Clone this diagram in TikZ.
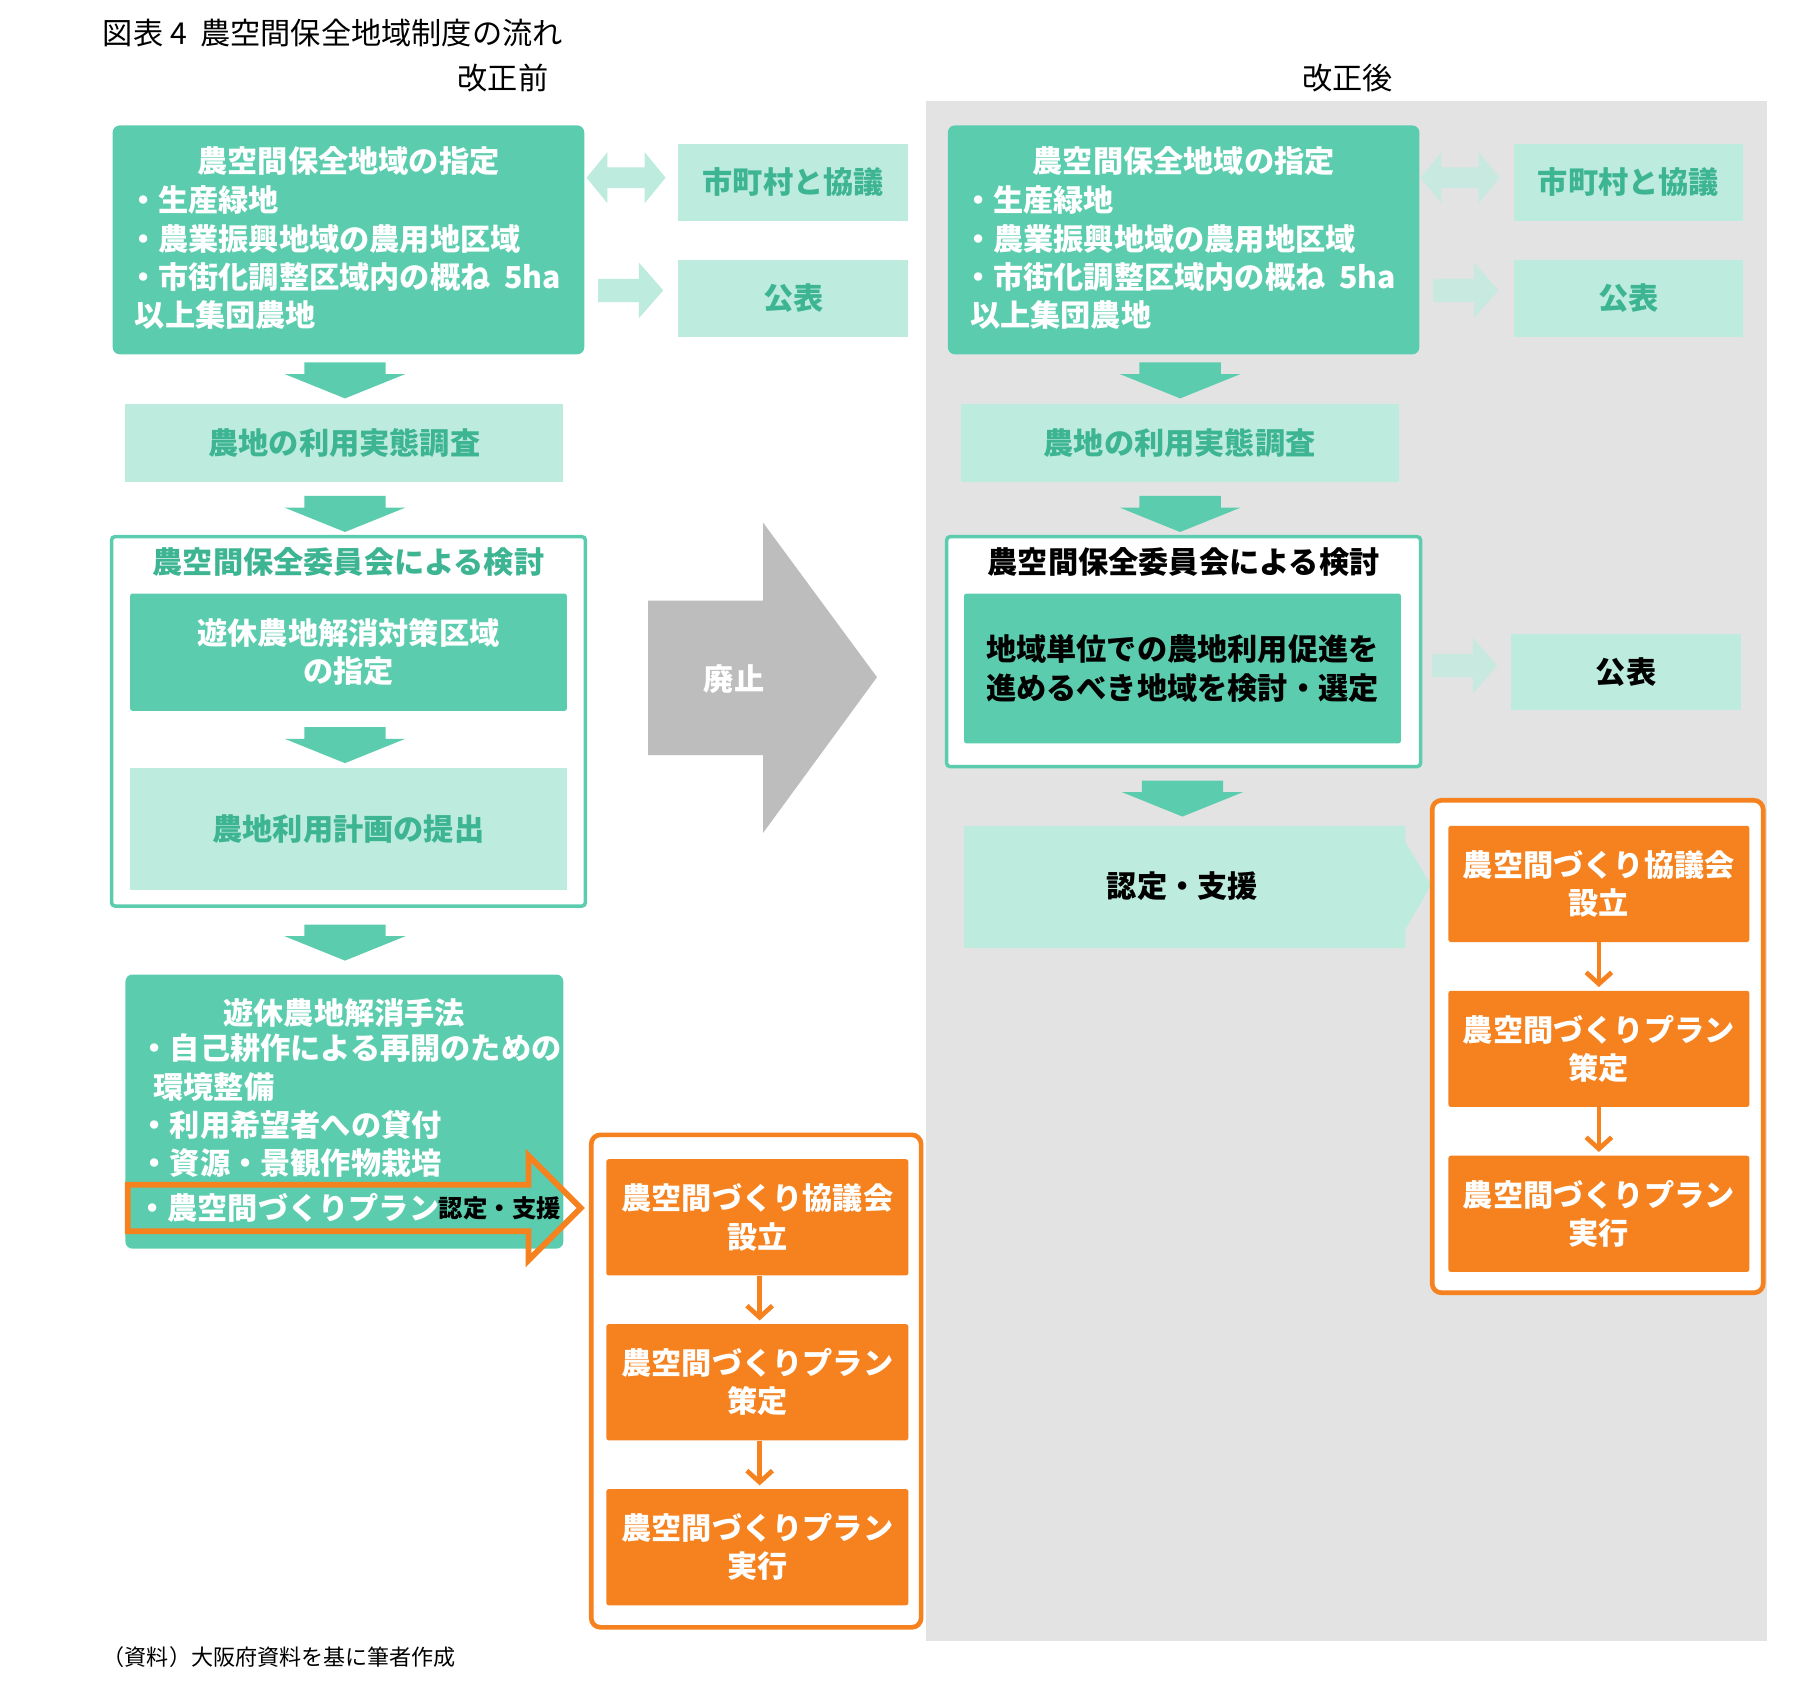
\documentclass[tikz,border=0pt]{standalone}
\usepackage{fontspec}
\setmainfont{Noto Sans CJK JP}
\usetikzlibrary{arrows.meta}
\definecolor{gr}{HTML}{5BCDAE}
\definecolor{lg}{HTML}{BDEBDD}
\definecolor{dg}{HTML}{3DB592}
\definecolor{og}{HTML}{F5821F}
\definecolor{bg}{HTML}{E3E3E3}
\definecolor{ga}{HTML}{BDBDBD}
\tikzset{x=1pt,y=-1pt,
 tx/.style={font=\fontsize{26}{33}\selectfont\bfseries,align=center,inner sep=0},
 gbox/.style={fill=gr,rounded corners=6pt,draw=none},
 lbox/.style={fill=lg,draw=none},
 obox/.style={fill=og,draw=none,rounded corners=2pt},
 oframe/.style={draw=og,line width=4pt,fill=white,rounded corners=8pt},
 gframe/.style={draw=gr,line width=3pt,fill=white,rounded corners=3pt},
 oarr/.style={draw=og,line width=4pt,-{Straight Barb[length=10pt,width=22pt,line width=4pt]}},
 larr/.style={fill=lg,draw=none}}
\newcommand{\downarr}[2]{\fill[gr] (#1-35,#2) -- (#1+35,#2) -- (#1+35,#2+10) -- (#1+52,#2+10) -- (#1,#2+31) -- (#1-52,#2+10) -- (#1-35,#2+10) -- cycle;}
\newcommand{\rarr}[3]{\fill[#3] (#1,#2-10) -- (#1+35,#2-10) -- (#1+35,#2-24) -- (#1+56,#2) -- (#1+35,#2+24) -- (#1+35,#2+10) -- (#1,#2+10) -- cycle;}
\newcommand{\dblarr}[3]{\fill[#3] (#1,#2) -- (#1+18,#2-22) -- (#1+18,#2-9) -- (#1+50,#2-9) -- (#1+50,#2-22) -- (#1+68,#2) -- (#1+50,#2+22) -- (#1+50,#2+9) -- (#1+18,#2+9) -- (#1+18,#2+22) -- cycle;}
\begin{document}
\begin{tikzpicture}
\useasboundingbox (0,0) rectangle (1560,1454);
\fill[white] (0,0) rectangle (1560,1454);
\fill[bg] (797,87) rectangle (1521,1413);
\node[anchor=west,font=\fontsize{26}{30}\selectfont] (title) at (85,28) {図表 4\ \ 農空間保全地域制度の流れ};
\node[font=\fontsize{26}{30}\selectfont] (hb) at (433,67) {改正前};
\node[font=\fontsize{26}{30}\selectfont] (ha) at (1160,67) {改正後};
\node[anchor=west,font=\fontsize{19}{22}\selectfont] (src) at (85,1427) {（資料）大阪府資料を基に筆者作成};

% ===== LEFT =====
\foreach \dx/\p in {0/L,719/R}{
 \begin{scope}[xshift=\dx]
 \node[gbox,minimum width=406,minimum height=197] (\p top) at (300,206.5) {};
 \node[tx,text=white] at (300,139) {農空間保全地域の指定};
 \node[tx,text=white,anchor=west,align=left] at (110,222) {・生産緑地\\・農業振興地域の農用地区域\\・市街化調整区域内の概ね\ \ 5ha\\\ 以上集団農地};
 \node[lbox,minimum width=198,minimum height=66,tx,text=dg] (\p kyo) at (683,157) {市町村と協議};
 \node[lbox,minimum width=198,minimum height=66,tx,text=dg] (\p pub) at (683,257) {公表};
 \downarr{297}{312}
 \node[lbox,minimum width=377,minimum height=67,tx,text=dg] (\p sur) at (296.5,381.5) {農地の利用実態調査};
 \downarr{297}{427}
 \end{scope}}
\dblarr{505}{153}{lg}
\dblarr{1223}{153}{lg!70!bg}
\rarr{515}{250}{lg}
\rarr{1234}{250}{lg!70!bg}

\node[gframe,minimum width=408,minimum height=318] (Lcom) at (300,621) {};
\node[tx,text=dg] (Lcomt) at (300,484) {農空間保全委員会による検討};
\node[gbox,rounded corners=2pt,minimum width=376,minimum height=101,tx,text=white] (Lzone) at (300,561.5) {遊休農地解消対策区域\\の指定};
\downarr{297}{626}
\node[lbox,minimum width=376,minimum height=105,tx,text=dg] (Lplan) at (300,713.5) {農地利用計画の提出};
\downarr{297}{796}

\node[gbox,minimum width=377,minimum height=236] (Lmeth) at (296.5,957) {};
\node[tx,text=white] at (296.5,872) {遊休農地解消手法};
\node[tx,text=white,anchor=north west,align=left,font=\fontsize{26}{33}\selectfont\bfseries] at (120,890) {・自己耕作による再開のための\\\ \ 環境整備\\・利用希望者への貸付\\・資源・景観作物栽培};
\draw[og,line width=5pt,line join=miter] (110,1020) -- (455,1020) -- (455,995) -- (500,1040) -- (455,1085) -- (455,1060) -- (110,1060) -- cycle;
\node[tx,text=white,anchor=west] (Lpl) at (118,1040) {・農空間づくりプラン};
\node[tx,text=black,anchor=east,font=\fontsize{21}{26}\selectfont\bfseries] (Lnin) at (483,1040) {認定・支援};

\node[oframe,minimum width=284,minimum height=424] (Lof) at (651,1189) {};
\node[obox,minimum width=260,minimum height=100,tx,text=white] (Lo1) at (652,1048) {農空間づくり協議会\\設立};
\node[obox,minimum width=260,minimum height=100,tx,text=white] (Lo2) at (652,1190) {農空間づくりプラン\\策定};
\node[obox,minimum width=260,minimum height=100,tx,text=white] (Lo3) at (652,1332) {農空間づくりプラン\\実行};
\draw[oarr] ([xshift=2pt]Lo1.south) -- ([xshift=2pt,yshift=3pt]Lo2.north);
\draw[oarr] ([xshift=2pt]Lo2.south) -- ([xshift=2pt,yshift=3pt]Lo3.north);

% gray arrow
\fill[ga] (558,517) -- (657,517) -- (657,450) -- (755,583) -- (657,717) -- (657,650) -- (558,650) -- cycle;
\node[tx,text=white] (haishi) at (632,585) {廃止};

% ===== RIGHT =====
\node[gframe,minimum width=408,minimum height=198] (Rcom) at (1019,561) {};
\node[tx,text=black] (Rcomt) at (1019,484) {農空間保全委員会による検討};
\node[gbox,rounded corners=2pt,minimum width=376,minimum height=129,tx,text=black] (Rsel) at (1018,575.5) {地域単位での農地利用促進を\\進めるべき地域を検討・選定};
\rarr{1233}{573}{lg!70!bg}
\node[lbox,minimum width=198,minimum height=65,tx,text=black] (Rpub2) at (1400,578.5) {公表};
\downarr{1018}{672}
\fill[lg] (830,711) -- (1210,711) -- (1210,725) -- (1232,762) -- (1210,800) -- (1210,816) -- (830,816) -- cycle;
\node[tx,text=black] (Rnin) at (1018,763) {認定・支援};

\node[oframe,minimum width=285,minimum height=424] (Rof) at (1375.5,901) {};
\node[obox,minimum width=259,minimum height=100,tx,text=white] (Ro1) at (1376.5,761) {農空間づくり協議会\\設立};
\node[obox,minimum width=259,minimum height=100,tx,text=white] (Ro2) at (1376.5,903) {農空間づくりプラン\\策定};
\node[obox,minimum width=259,minimum height=100,tx,text=white] (Ro3) at (1376.5,1045) {農空間づくりプラン\\実行};
\draw[oarr] (Ro1.south) -- ([yshift=3pt]Ro2.north);
\draw[oarr] (Ro2.south) -- ([yshift=3pt]Ro3.north);
\end{tikzpicture}
\end{document}
